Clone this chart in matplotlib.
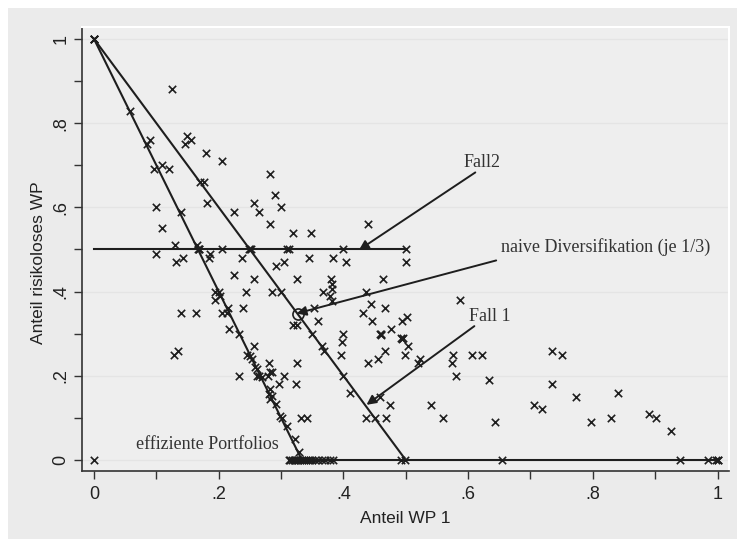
import numpy as np
import matplotlib
matplotlib.use('Agg')
import matplotlib.pyplot as plt
from matplotlib.patches import Rectangle

# shares of the portfolios
anteil_wp1 = [
    0, 0, 0, 0, 0.057, 0.125, 0.09, 0.085, 0.149, 0.156, 0.146, 0.179, 0.205,
    0.096, 0.109, 0.121, 0.170, 0.176, 0.283, 0.181, 0.257, 0.291, 0.30, 0.265,
    0.225, 0.10, 0.139, 0.283, 0.319, 0.109, 0.348, 0.44, 0.13, 0.10, 0.131,
    0.142, 0.165, 0.167, 0.168, 0.169, 0.186, 0.185, 0.205, 0.237, 0.248, 0.25,
    0.252, 0.31, 0.312, 0.40, 0.50, 0.305, 0.344, 0.383, 0.404, 0.50, 0.292,
    0.325, 0.38, 0.463, 0.225, 0.256, 0.243, 0.285, 0.30, 0.194, 0.201, 0.202,
    0.194, 0.381, 0.381, 0.367, 0.379, 0.381, 0.436, 0.587, 0.239, 0.215, 0.205,
    0.213, 0.14, 0.163, 0.352, 0.444, 0.467, 0.432, 0.446, 0.494, 0.502, 0.359,
    0.319, 0.325, 0.349, 0.399, 0.397, 0.396, 0.459, 0.461, 0.46, 0.476, 0.492,
    0.496, 0.494, 0.504, 0.499, 0.467, 0.455, 0.44, 0.365, 0.369, 0.523, 0.520,
    0.576, 0.574, 0.58, 0.607, 0.622, 0.633, 0.734, 0.75, 0.734, 0.705, 0.718,
    0.773, 0.643, 0.797, 0.829, 0.84, 0.89, 0.901, 0.925, 0.2165, 0.233, 0.256,
    0.245, 0.25, 0.253, 0.129, 0.134, 0.325, 0.281, 0.258, 0.261, 0.285, 0.279,
    0.233, 0.304, 0.265, 0.269, 0.261, 0.283, 0.297, 0.324, 0.399, 0.282, 0.281,
    0.285, 0.282, 0.292, 0.298, 0.301, 0.332, 0.342, 0.31, 0.322, 0.329, 0.411,
    0.459, 0.474, 0.541, 0.559, 0.436, 0.45, 0.468,
    # bottom row
    0, 0.312, 0.315, 0.318, 0.32, 0.322, 0.325, 0.327, 0.33, 0.333, 0.336, 0.34,
    0.343, 0.346, 0.35, 0.355, 0.36, 0.365, 0.37, 0.378, 0.384, 0.492, 0.499,
    0.655, 0.94, 0.984, 0.998, 1, 1,
]
anteil_risikolos = [
    1, 1, 1, 1, 0.83, 0.88, 0.76, 0.75, 0.77, 0.76, 0.75, 0.73, 0.71,
    0.69, 0.70, 0.69, 0.66, 0.66, 0.68, 0.61, 0.61, 0.63, 0.60, 0.59,
    0.59, 0.60, 0.59, 0.56, 0.54, 0.55, 0.54, 0.56, 0.51, 0.49, 0.47,
    0.48, 0.51, 0.50, 0.50, 0.50, 0.49, 0.48, 0.50, 0.48, 0.50, 0.50,
    0.50, 0.50, 0.50, 0.50, 0.50, 0.47, 0.48, 0.48, 0.47, 0.47, 0.46,
    0.43, 0.43, 0.43, 0.44, 0.43, 0.40, 0.40, 0.40, 0.40, 0.40, 0.39,
    0.38, 0.417, 0.405, 0.40, 0.389, 0.377, 0.40, 0.38, 0.36, 0.36, 0.35,
    0.35, 0.35, 0.35, 0.36, 0.37, 0.36, 0.35, 0.33, 0.33, 0.34, 0.33,
    0.32, 0.32, 0.30, 0.30, 0.28, 0.25, 0.30, 0.30, 0.298, 0.31, 0.29,
    0.29, 0.288, 0.27, 0.25, 0.26, 0.24, 0.23, 0.27, 0.26, 0.24, 0.23,
    0.25, 0.23, 0.20, 0.25, 0.25, 0.19, 0.26, 0.25, 0.18, 0.13, 0.12,
    0.15, 0.09, 0.09, 0.10, 0.16, 0.11, 0.10, 0.07, 0.31, 0.30, 0.27,
    0.25, 0.247, 0.24, 0.25, 0.26, 0.23, 0.23, 0.22, 0.216, 0.21, 0.20,
    0.20, 0.20, 0.20, 0.196, 0.20, 0.208, 0.18, 0.18, 0.20, 0.168, 0.156,
    0.151, 0.145, 0.133, 0.104, 0.10, 0.10, 0.10, 0.08, 0.05, 0.02, 0.16,
    0.15, 0.13, 0.13, 0.10, 0.10, 0.10, 0.10,
    # bottom row
    0, 0, 0, 0, 0, 0, 0, 0, 0, 0, 0, 0,
    0, 0, 0, 0, 0, 0, 0, 0, 0, 0, 0,
    0, 0, 0, 0, 0, 0,
]

# connecting lines
fall1_x = [0, 0.5]
fall1_y = [1, 0]
effizient_x = [0, 1 / 3, 1]
effizient_y = [1, 0, 0]
fall2_x = [0, 0.5]
fall2_y = [0.5, 0.5]
naive_x = [0.327]
naive_y = [0.346]

# annotations: label, text position, arrow start, arrow tip
notes = ['Fall2', 'naive Diversifikation (je 1/3)', 'Fall 1']
note_pos = [(0.592, 0.697), (0.653, 0.495), (0.602, 0.33)]
arrow_from = [(0.6115, 0.683), (0.645, 0.474), (0.61, 0.318)]
arrow_to = [(0.425, 0.499), (0.325, 0.348), (0.437, 0.131)]

xticks = np.arange(0, 1.01, 0.1)
tick_text = ['0', '', '.2', '', '.4', '', '.6', '', '.8', '', '1']

ink = '#1e1e1e'
fig = plt.figure(figsize=(7.37, 5.39), dpi=100)
fig.patch.set_facecolor('white')
fig.add_artist(Rectangle((8 / 737, 0), 1, 531 / 539, transform=fig.transFigure,
                         facecolor='#ebebeb', edgecolor='none', zorder=-1))

ax = fig.add_axes([82 / 737, 68 / 539, 647 / 737, 444 / 539])
ax.set_facecolor('#eeeeee')

for yy in [0, 0.2, 0.4, 0.6, 0.8, 1]:
    ax.axhline(yy, color='#e4e4e4', lw=1.0, zorder=0)

ax.plot(fall1_x, fall1_y, color=ink, lw=1.5, zorder=2)
ax.plot(effizient_x, effizient_y, color=ink, lw=1.5, zorder=2)
ax.plot(fall2_x, fall2_y, color=ink, lw=1.5, zorder=2)
ax.scatter(anteil_wp1, anteil_risikolos, marker='x', s=28, linewidths=1.2,
           color=ink, zorder=3)
ax.plot(naive_x, naive_y, marker='o', ms=8, mfc='none', mec=ink, mew=1.2,
        ls='none', zorder=3)

serif = ['Liberation Serif', 'DejaVu Serif']
for lab, pos, a, b in zip(notes, note_pos, arrow_from, arrow_to):
    ax.text(pos[0], pos[1], lab, family=serif, fontsize=13, color='#333333',
            ha='left', va='baseline')
    ax.annotate('', xy=b, xytext=a,
                arrowprops=dict(arrowstyle='-|>', color=ink, lw=1.4,
                                mutation_scale=14, shrinkA=0, shrinkB=0))
ax.text(0.067, 0.026, 'effiziente Portfolios', family=serif, fontsize=13,
        color='#333333', ha='left', va='baseline')

ax.set_xlim(-0.0193, 1.0184)
ax.set_ylim(-0.0261, 1.0284)

sans = ['Liberation Sans', 'DejaVu Sans']
ax.set_xticks(xticks)
ax.set_xticklabels(tick_text, family=sans, fontsize=13, color='#222222')
ax.set_yticks(xticks)
ax.set_yticklabels(tick_text, family=sans, fontsize=13, color='#222222',
                   rotation=90, va='center')
ax.tick_params(length=6, width=1, color='#333333')
ax.tick_params(axis='x', pad=5)
ax.tick_params(axis='y', pad=3)

ax.set_xlabel('Anteil WP 1', family=sans, fontsize=12.5, color='#222222')
ax.set_ylabel('Anteil risikoloses WP', family=sans, fontsize=12.5,
              color='#222222')
ax.xaxis.set_label_coords(0.5, -0.106)
ax.yaxis.set_label_coords(-0.068, 0.47)
ax.xaxis.label.set_va('center')
ax.yaxis.label.set_va('center')

for side in ['top', 'right']:
    ax.spines[side].set_color('white')
    ax.spines[side].set_linewidth(1.5)
for side in ['left', 'bottom']:
    ax.spines[side].set_color('#333333')
    ax.spines[side].set_linewidth(1.2)

fig.savefig('out.png', dpi=100)
